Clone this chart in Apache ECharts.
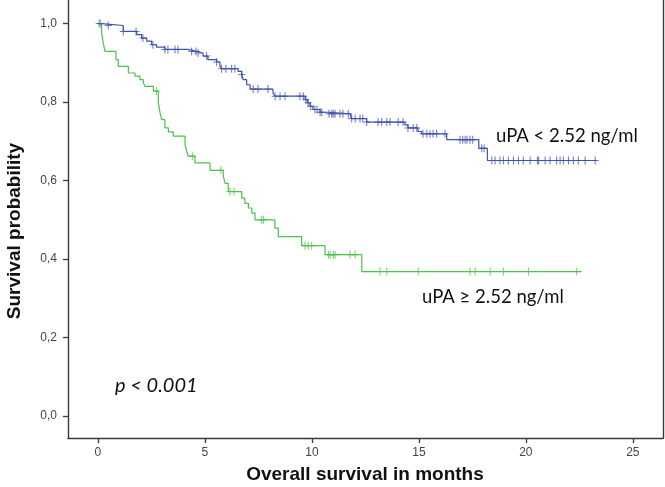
<!DOCTYPE html>
<html>
<head>
<meta charset="utf-8">
<script src="https://cdn.jsdelivr.net/npm/echarts@6/dist/echarts.min.js"></script>
<style>html,body{margin:0;padding:0;background:#fff;}#c{width:665px;height:487px;}</style>
</head>
<body>
<div id="c"></div>
<script>
// Kaplan-Meier step data: event times (months) and survival after each step
const lowTimes = [0, 0.17, 1.18, 1.81, 2.04, 2.28, 2.51, 2.74, 3.13, 4.2, 4.61, 4.91, 5.14, 5.55, 5.70, 5.78, 6.55, 6.72, 6.79, 6.95, 7.11, 8.18, 8.27, 9.68, 9.79, 9.91, 10.05, 10.38, 10.75, 11.81, 11.86, 12.56, 14.35, 14.49, 14.96, 15.13, 16.30, 17.80, 18.20];
const lowSurv = [1.0, 0.995, 0.980, 0.972, 0.963, 0.955, 0.946, 0.940, 0.934, 0.929, 0.925, 0.917, 0.908, 0.902, 0.891, 0.885, 0.878, 0.870, 0.857, 0.844, 0.833, 0.823, 0.815, 0.806, 0.798, 0.789, 0.781, 0.774, 0.770, 0.764, 0.758, 0.749, 0.742, 0.734, 0.725, 0.719, 0.704, 0.682, 0.651];
const lowEnd = 23.3;
const lowCensored = [0.1, 0.48, 1.18, 1.78, 2.10, 2.57, 3.13, 3.27, 3.60, 3.74, 4.38, 4.58, 4.68, 5.08, 5.55, 5.78, 5.98, 6.25, 6.40, 6.72, 7.25, 7.48, 7.95, 8.28, 8.51, 8.74, 9.44, 9.60, 9.72, 9.82, 9.94, 10.14, 10.24, 10.38, 10.46, 10.80, 10.93, 10.99, 11.08, 11.31, 11.45, 11.70, 11.86, 12.02, 12.25, 12.38, 12.56, 13.09, 13.26, 13.50, 13.65, 14.03, 14.26, 14.49, 14.73, 14.90, 15.19, 15.37, 15.52, 15.66, 15.83, 16.22, 16.92, 17.05, 17.16, 17.25, 17.39, 17.52, 17.94, 18.05, 18.41, 18.56, 18.79, 18.95, 19.18, 19.42, 19.65, 19.88, 20.20, 20.54, 20.60, 20.90, 21.13, 21.44, 21.60, 21.75, 21.99, 22.22, 22.45, 22.77, 23.24];

const highTimes = [0, 0.17, 0.25, 0.33, 0.84, 0.95, 1.42, 1.73, 1.96, 2.12, 2.20, 2.59, 2.82, 2.90, 2.98, 3.13, 3.29, 3.52, 4.07, 4.15, 4.22, 4.53, 5.24, 5.86, 5.94, 6.09, 6.72, 6.87, 7.03, 7.19, 7.34, 8.27, 8.43, 9.52, 10.61, 12.33];
const highSurv = [1.0, 0.976, 0.95, 0.929, 0.908, 0.891, 0.874, 0.866, 0.857, 0.849, 0.840, 0.828, 0.80, 0.773, 0.755, 0.734, 0.724, 0.713, 0.691, 0.674, 0.662, 0.645, 0.626, 0.611, 0.593, 0.572, 0.555, 0.542, 0.530, 0.517, 0.500, 0.479, 0.457, 0.434, 0.411, 0.368];
const highEnd = 22.6;
const highCensored = [0.05, 2.74, 4.43, 5.75, 6.17, 6.36, 7.65, 7.73, 9.68, 9.83, 9.99, 10.77, 10.85, 11.00, 11.08, 11.78, 12.02, 13.18, 13.50, 14.97, 17.39, 17.63, 18.33, 18.95, 20.12, 22.38];

const xTicks = [0, 5, 10, 15, 20, 25];
const yTicks = [0, 0.2, 0.4, 0.6, 0.8, 1.0];

const blue = '#3f51ad';
const green = '#4cc24c';
const cross = 'path://M3,0H4V8H3ZM0,3.5H7V4.5H0Z';

function stepLine(T, S, end) {
  const d = T.map((t, i) => [t, S[i]]);
  d.push([end, S[S.length - 1]]);
  return d;
}
function survAt(T, S, t) {
  let v = S[0];
  for (let i = 0; i < T.length; i++) if (T[i] <= t + 1e-9) v = S[i];
  return v;
}
function censorPts(T, S, C) { return C.map(t => [t, survAt(T, S, t)]); }

const chart = echarts.init(document.getElementById('c'), null, {renderer: 'canvas'});
const axisCol = '#3a3a3a';
const labelStyle = {color: '#444', fontFamily: 'Liberation Sans', fontSize: 12};
chart.setOption({
  animation: false,
  backgroundColor: '#fff',
  grid: {left: 68, top: 0, right: 2, bottom: 49, containLabel: false},
  xAxis: {
    type: 'value', min: -1.40, max: 26.41,
    axisLine: {show: true, onZero: false, lineStyle: {color: axisCol, width: 1.4}},
    axisTick: {show: true, length: 5, customValues: xTicks, lineStyle: {color: axisCol, width: 1.3}},
    axisLabel: Object.assign({customValues: xTicks, margin: 9}, labelStyle),
    splitLine: {show: false}
  },
  yAxis: [{
    type: 'value', min: -0.056, max: 1.060,
    axisLine: {show: true, onZero: false, lineStyle: {color: axisCol, width: 1.4}},
    axisTick: {show: true, length: 5, customValues: yTicks, lineStyle: {color: axisCol, width: 1.3}},
    axisLabel: Object.assign({customValues: yTicks, margin: 11, formatter: v => v.toFixed(1).replace('.', ',')}, labelStyle),
    splitLine: {show: false}
  }, {
    type: 'value', min: -0.056, max: 1.060, position: 'right',
    axisLine: {show: true, onZero: false, lineStyle: {color: axisCol, width: 1.4}},
    axisTick: {show: false}, axisLabel: {show: false}, splitLine: {show: false}
  }],
  series: [
    {type: 'line', step: 'end', data: stepLine(highTimes, highSurv, highEnd), symbol: 'none',
     lineStyle: {color: green, width: 1.2}, z: 2},
    {type: 'line', step: 'end', data: stepLine(lowTimes, lowSurv, lowEnd), symbol: 'none',
     lineStyle: {color: blue, width: 1.2}, z: 3},
    {type: 'scatter', data: censorPts(highTimes, highSurv, highCensored), symbol: cross, symbolSize: [7, 8],
     itemStyle: {color: green}, z: 4},
    {type: 'scatter', data: censorPts(lowTimes, lowSurv, lowCensored), symbol: cross, symbolSize: [7, 8],
     itemStyle: {color: blue}, z: 5}
  ],
  graphic: [
    {type: 'text', x: 15, y: 231, rotation: Math.PI / 2,
     style: {text: 'Survival probability', fontFamily: 'Liberation Sans', fontWeight: 'bold', fontSize: 19,
             fill: '#111', align: 'center', verticalAlign: 'middle'}},
    {type: 'text', x: 365, y: 475,
     style: {text: 'Overall survival in months', fontFamily: 'Liberation Sans', fontWeight: 'bold', fontSize: 19,
             fill: '#111', align: 'center', verticalAlign: 'middle'}},
    {type: 'text', x: 496, y: 136,
     style: {text: 'uPA < 2.52 ng/ml', fontFamily: 'Lato', fontSize: 18.5, fill: '#111', align: 'left', verticalAlign: 'middle'}},
    {type: 'text', x: 422, y: 297,
     style: {text: 'uPA \u2265 2.52 ng/ml', fontFamily: 'Lato', fontSize: 18.5, fill: '#111', align: 'left', verticalAlign: 'middle'}},
    {type: 'text', x: 115, y: 386,
     style: {text: 'p < 0.001', fontFamily: 'Lato', fontStyle: 'italic', fontSize: 20, fill: '#111', align: 'left', verticalAlign: 'middle'}}
  ]
});
</script>
</body>
</html>
